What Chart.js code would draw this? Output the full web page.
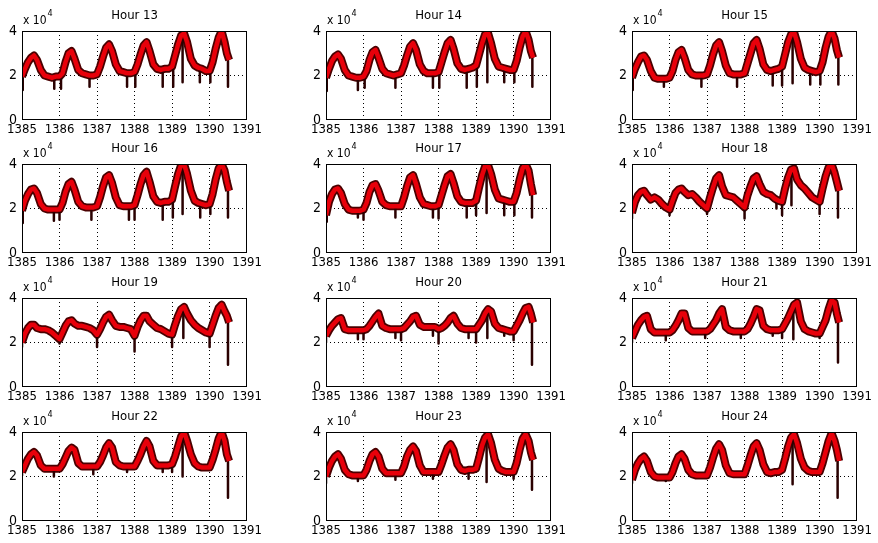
<!DOCTYPE html>
<html>
<head>
<meta charset="utf-8">
<script src="https://cdn.jsdelivr.net/npm/chart.js@4.4.1/dist/chart.umd.min.js"></script>
<style>
body { margin: 0; background: #fff; width: 878px; height: 543px; position: relative; overflow: hidden; }
canvas { position: absolute; }
</style>
</head>
<body>
<script>
// x positions (year)
var years = [
  1385.00, 1385.08, 1385.16, 1385.24, 1385.32, 1385.40, 1385.50, 1385.60, 1385.70, 1385.80, 1385.90,
  1386.00, 1386.08, 1386.16, 1386.24, 1386.32, 1386.40, 1386.50, 1386.60, 1386.70, 1386.80, 1386.90,
  1387.00, 1387.08, 1387.16, 1387.24, 1387.32, 1387.40, 1387.50, 1387.60, 1387.70, 1387.80, 1387.90,
  1388.00, 1388.08, 1388.16, 1388.24, 1388.32, 1388.40, 1388.50, 1388.60, 1388.70, 1388.80, 1388.90,
  1389.00, 1389.08, 1389.16, 1389.24, 1389.32, 1389.40, 1389.50, 1389.60, 1389.70, 1389.80, 1389.90,
  1390.00, 1390.08, 1390.16, 1390.24, 1390.32, 1390.40, 1390.46, 1390.52
];
var xTicks = [1385, 1386, 1387, 1388, 1389, 1390, 1391];
var yTicks = [0, 2, 4];

// values in units of 10^4
var hour13 = [
  1.95, 2.3, 2.6, 2.8, 2.9, 2.7, 2.25, 2.0, 1.95, 1.9, 1.95,
  1.95, 2.1, 2.6, 3.0, 3.1, 2.75, 2.25, 2.1, 2.05, 2.0, 2.0,
  2.05, 2.4, 2.85, 3.25, 3.4, 3.1, 2.5, 2.2, 2.15, 2.1, 2.1,
  2.15, 2.5, 2.95, 3.35, 3.5, 3.1, 2.5, 2.3, 2.25, 2.3, 2.3,
  2.4, 2.9, 3.4, 3.8, 3.9, 3.5, 2.75, 2.45, 2.35, 2.3, 2.2,
  2.2, 2.6, 3.2, 3.7, 4.0, 3.5, 3.0, 2.7
];
var hour14 = [
  1.9, 2.3, 2.65, 2.85, 2.95, 2.75, 2.25, 2.0, 1.95, 1.9, 1.9,
  1.95, 2.2, 2.7, 3.05, 3.15, 2.8, 2.3, 2.1, 2.05, 2.0, 2.05,
  2.1, 2.45, 2.9, 3.3, 3.45, 3.15, 2.5, 2.2, 2.1, 2.1, 2.1,
  2.15, 2.6, 3.05, 3.45, 3.6, 3.2, 2.55, 2.3, 2.25, 2.3, 2.35,
  2.45, 2.95, 3.45, 3.85, 3.9, 3.45, 2.75, 2.4, 2.35, 2.3, 2.25,
  2.25, 2.65, 3.25, 3.75, 4.0, 3.6, 3.1, 2.8
];
var hour15 = [
  1.9, 2.3, 2.6, 2.85, 2.9, 2.7, 2.2, 1.9, 1.85, 1.85, 1.85,
  1.9, 2.2, 2.7, 3.05, 3.15, 2.8, 2.25, 2.05, 2.0, 2.0, 2.0,
  2.05, 2.45, 2.95, 3.35, 3.5, 3.1, 2.45, 2.1, 2.05, 2.05, 2.05,
  2.1, 2.55, 3.0, 3.45, 3.6, 3.2, 2.5, 2.25, 2.2, 2.25, 2.3,
  2.4, 2.95, 3.5, 3.85, 3.95, 3.5, 2.75, 2.35, 2.25, 2.2, 2.15,
  2.2, 2.6, 3.25, 3.75, 4.0, 3.65, 3.15, 2.8
];
var hour16 = [
  1.9, 2.35, 2.65, 2.85, 2.9, 2.7, 2.2, 2.0, 1.95, 1.95, 1.95,
  1.95, 2.25, 2.75, 3.1, 3.2, 2.85, 2.3, 2.1, 2.05, 2.05, 2.05,
  2.1, 2.5, 3.0, 3.4, 3.5, 3.15, 2.5, 2.15, 2.1, 2.1, 2.1,
  2.15, 2.6, 3.1, 3.5, 3.65, 3.2, 2.55, 2.3, 2.25, 2.3, 2.3,
  2.4, 3.0, 3.55, 3.95, 4.0, 3.55, 2.8, 2.35, 2.25, 2.2, 2.15,
  2.2, 2.65, 3.3, 3.8, 4.0, 3.7, 3.2, 2.8
];
var hour17 = [
  1.7, 2.3, 2.65, 2.85, 2.9, 2.7, 2.2, 1.95, 1.9, 1.9, 1.9,
  1.95, 2.25, 2.75, 3.05, 3.1, 2.8, 2.3, 2.15, 2.1, 2.1, 2.1,
  2.1, 2.5, 3.0, 3.4, 3.5, 3.1, 2.5, 2.2, 2.15, 2.1, 2.1,
  2.15, 2.6, 3.05, 3.45, 3.55, 3.15, 2.55, 2.3, 2.25, 2.25, 2.25,
  2.35, 2.95, 3.5, 3.9, 3.95, 3.55, 2.85, 2.45, 2.4, 2.35, 2.3,
  2.3, 2.7, 3.3, 3.8, 4.0, 3.7, 3.1, 2.6
];
var hour18 = [
  1.8, 2.3, 2.6, 2.75, 2.8, 2.6, 2.4, 2.5, 2.4, 2.2, 2.05,
  1.95, 2.35, 2.7, 2.85, 2.9, 2.75, 2.6, 2.65, 2.5, 2.3, 2.15,
  2.0, 2.5, 2.95, 3.35, 3.5, 3.0, 2.6, 2.55, 2.5, 2.35, 2.2,
  2.05, 2.6, 3.0, 3.35, 3.45, 3.1, 2.75, 2.65, 2.6, 2.45, 2.35,
  2.3, 2.9, 3.4, 3.75, 3.8, 3.3, 3.05, 2.9, 2.7, 2.5, 2.4,
  2.3, 2.9, 3.45, 3.85, 4.0, 3.6, 3.2, 2.8
];
var hour19 = [
  2.0, 2.4, 2.65, 2.8, 2.8, 2.65, 2.6, 2.6, 2.55, 2.45, 2.3,
  2.15, 2.45, 2.75, 2.95, 3.0, 2.85, 2.75, 2.75, 2.7, 2.65, 2.55,
  2.35, 2.6, 2.9, 3.15, 3.25, 3.0, 2.75, 2.7, 2.7, 2.65, 2.6,
  2.3, 2.7, 3.0, 3.2, 3.2, 2.95, 2.8, 2.65, 2.6, 2.5, 2.4,
  2.35, 2.8, 3.2, 3.5, 3.6, 3.3, 3.0, 2.8, 2.65, 2.55, 2.45,
  2.4, 2.8, 3.2, 3.55, 3.7, 3.4, 3.2, 2.9
];
var hour20 = [
  2.3, 2.55, 2.75, 2.9, 3.05, 3.1, 2.6, 2.55, 2.55, 2.55, 2.55,
  2.55, 2.6, 2.75, 2.95, 3.15, 3.3, 2.75, 2.65, 2.6, 2.6, 2.6,
  2.6, 2.65, 2.8, 2.95, 3.15, 3.2, 2.8, 2.7, 2.7, 2.7, 2.7,
  2.6, 2.65, 2.75, 2.9, 3.1, 3.2, 2.85, 2.65, 2.6, 2.6, 2.6,
  2.6, 2.8, 3.0, 3.3, 3.5, 3.4, 2.85, 2.65, 2.6, 2.55, 2.5,
  2.5, 2.75, 3.0, 3.3, 3.55, 3.6, 3.3, 2.9
];
var hour21 = [
  2.2, 2.5, 2.8, 3.0, 3.15, 3.2, 2.6, 2.45, 2.45, 2.45, 2.45,
  2.45, 2.55, 2.75, 3.0, 3.3, 3.3, 2.65, 2.5, 2.5, 2.5, 2.5,
  2.5, 2.6, 2.8, 3.0, 3.3, 3.5, 2.7, 2.55, 2.5, 2.5, 2.5,
  2.5, 2.6, 2.85, 3.15, 3.5, 3.45, 2.75, 2.6, 2.55, 2.55, 2.55,
  2.6, 2.85, 3.1, 3.4, 3.7, 3.8, 2.95, 2.6, 2.5, 2.45, 2.4,
  2.4, 2.7, 3.0, 3.5, 3.9, 3.8, 3.3, 2.9
];
var hour22 = [
  2.2, 2.5, 2.8, 3.0, 3.1, 2.95, 2.5, 2.35, 2.35, 2.35, 2.35,
  2.35, 2.55, 2.85, 3.15, 3.3, 3.2, 2.6, 2.45, 2.45, 2.45, 2.45,
  2.45, 2.65, 2.95, 3.3, 3.5, 3.3, 2.65, 2.5, 2.45, 2.45, 2.45,
  2.45, 2.7, 3.0, 3.35, 3.6, 3.35, 2.7, 2.5, 2.5, 2.5, 2.5,
  2.55, 2.9, 3.35, 3.8, 4.0, 3.6, 3.0, 2.6, 2.45, 2.4, 2.4,
  2.4, 2.75, 3.2, 3.7, 4.0, 3.6, 3.0, 2.7
];
var hour23 = [
  2.0, 2.4, 2.7, 2.9, 3.0, 2.8, 2.3, 2.1, 2.05, 2.05, 2.05,
  2.05, 2.3, 2.7, 3.0, 3.1, 2.9, 2.35, 2.15, 2.15, 2.15, 2.15,
  2.15, 2.45, 2.9, 3.2, 3.35, 3.15, 2.5, 2.2, 2.2, 2.2, 2.2,
  2.2, 2.55, 2.95, 3.3, 3.45, 3.2, 2.55, 2.3, 2.25, 2.3, 2.3,
  2.35, 2.85, 3.4, 3.75, 3.9, 3.5, 2.75, 2.35, 2.25, 2.2, 2.2,
  2.2, 2.6, 3.2, 3.7, 3.9, 3.6, 3.1, 2.75
];
var hour24 = [
  1.85, 2.3, 2.6, 2.8, 2.9, 2.7, 2.2, 2.0, 1.95, 1.95, 1.95,
  1.95, 2.2, 2.6, 2.9, 3.0, 2.8, 2.3, 2.1, 2.05, 2.05, 2.05,
  2.05, 2.4, 2.85, 3.25, 3.45, 3.2, 2.5, 2.15, 2.1, 2.1, 2.1,
  2.1, 2.5, 2.95, 3.35, 3.5, 3.2, 2.55, 2.2, 2.15, 2.2, 2.2,
  2.3, 2.8, 3.35, 3.75, 3.9, 3.5, 2.8, 2.4, 2.25, 2.2, 2.2,
  2.2, 2.6, 3.1, 3.6, 3.95, 3.6, 3.2, 2.7
];

// one-day drops: [year, level, low]
var drops13 = [[1385.02,1.9,1.35],[1385.86,1.9,1.4],[1386.04,1.95,1.4],[1386.8,2.05,1.5],[1387.8,2.1,1.5],[1388.02,2.15,1.5],[1388.75,2.25,1.5],[1389.03,2.4,1.5],[1389.28,3.6,1.7],[1389.74,2.35,1.7],[1390.02,2.2,1.7],[1390.49,3.0,1.5]];
var drops14 = [[1385.02,1.9,1.3],[1385.85,1.9,1.35],[1386.03,1.95,1.45],[1386.85,2.0,1.45],[1387.85,2.1,1.45],[1388.02,2.15,1.45],[1388.75,2.25,1.45],[1389.02,2.4,1.5],[1389.3,3.7,1.7],[1389.75,2.3,1.7],[1390.02,2.25,1.7],[1390.5,2.9,1.5]];
var drops15 = [[1385.02,1.9,1.35],[1385.85,1.85,1.5],[1386.85,2.0,1.5],[1387.8,2.05,1.5],[1388.75,2.2,1.55],[1389.0,2.4,1.55],[1389.28,3.7,1.65],[1389.75,2.25,1.6],[1390.02,2.2,1.6],[1390.5,2.8,1.6]];
var drops16 = [[1385.02,1.9,1.35],[1385.85,1.95,1.45],[1386.0,1.95,1.5],[1386.85,2.05,1.5],[1387.85,2.1,1.5],[1388.0,2.15,1.5],[1388.75,2.25,1.5],[1389.02,2.4,1.6],[1389.28,3.8,1.75],[1389.75,2.25,1.6],[1390.02,2.2,1.75],[1390.49,3.0,1.6]];
var drops17 = [[1385.02,1.8,1.4],[1385.85,1.9,1.6],[1386.0,1.95,1.5],[1386.85,2.1,1.6],[1387.85,2.1,1.6],[1388.0,2.15,1.55],[1388.75,2.25,1.6],[1389.0,2.35,1.7],[1389.28,3.8,1.8],[1389.75,2.35,1.7],[1390.02,2.3,1.7],[1390.49,2.8,1.6]];
var drops18 = [[1385.0,1.8,1.55],[1386.0,1.95,1.7],[1387.0,2.0,1.75],[1388.0,2.05,1.55],[1388.85,2.4,2.0],[1389.0,2.3,1.7],[1389.25,3.6,2.15],[1390.0,2.3,1.75],[1390.49,3.0,1.6]];
var drops19 = [[1385.0,2.0,1.8],[1386.0,2.15,1.95],[1387.0,2.35,1.8],[1388.0,2.3,1.6],[1389.0,2.35,1.8],[1389.3,3.5,2.2],[1390.0,2.4,1.8],[1390.49,3.0,1.0]];
var drops20 = [[1385.0,2.3,2.0],[1385.85,2.55,2.15],[1386.0,2.55,2.15],[1386.85,2.6,2.2],[1387.0,2.6,2.1],[1387.85,2.7,2.3],[1388.0,2.6,1.95],[1388.8,2.6,2.2],[1389.0,2.6,2.0],[1389.3,3.4,2.2],[1389.75,2.55,2.3],[1390.0,2.5,2.1],[1390.49,3.1,1.0]];
var drops21 = [[1385.0,2.2,2.0],[1385.9,2.45,2.1],[1386.95,2.5,2.2],[1387.9,2.5,2.2],[1388.75,2.55,2.3],[1389.0,2.6,2.2],[1389.3,3.5,2.15],[1390.0,2.4,2.2],[1390.49,3.1,1.1]];
var drops22 = [[1385.0,2.2,2.05],[1385.85,2.35,2.0],[1386.9,2.45,2.1],[1387.8,2.45,2.2],[1388.75,2.5,2.2],[1389.0,2.55,2.2],[1389.28,3.8,2.0],[1389.75,2.4,2.3],[1390.49,2.9,1.05]];
var drops23 = [[1385.0,2.0,1.7],[1385.85,2.05,1.8],[1386.85,2.15,1.85],[1387.85,2.2,1.9],[1388.8,2.25,1.9],[1389.28,3.7,1.75],[1390.0,2.2,1.9],[1390.49,3.0,1.4]];
var drops24 = [[1385.0,1.85,1.7],[1385.9,1.95,1.8],[1389.28,3.7,1.65],[1390.48,3.2,1.05]];

var titles = ['Hour 13', 'Hour 14', 'Hour 15', 'Hour 16', 'Hour 17', 'Hour 18',
              'Hour 19', 'Hour 20', 'Hour 21', 'Hour 22', 'Hour 23', 'Hour 24'];
var series = [hour13, hour14, hour15, hour16, hour17, hour18, hour19, hour20, hour21, hour22, hour23, hour24];
var drops = [drops13, drops14, drops15, drops16, drops17, drops18, drops19, drops20, drops21, drops22, drops23, drops24];

var fam = "'Liberation Sans Narrow', 'DejaVu Sans Condensed', 'Liberation Sans', Arial, sans-serif";
var colLeft = [22, 326, 632];
var rowTop = [31, 164, 298, 432];

var boxPlugin = {
    id: 'box',
    afterDraw: function (chart) {
        var a = chart.chartArea, c = chart.ctx;
        c.save();
        c.strokeStyle = '#000';
        c.lineWidth = 1;
        c.strokeRect(Math.round(a.left) + 0.5, Math.round(a.top) + 0.5, Math.round(a.right - a.left) - 1, Math.round(a.bottom - a.top) - 1);
        c.fillStyle = '#000';
        c.font = '12px ' + fam;
        c.fillText('x 10', a.left + 1, a.top - 7);
        var w = c.measureText('x 10').width;
        c.font = '9px ' + fam;
        c.fillText('4', a.left + 2 + w, a.top - 15);
        c.restore();
    }
};

function makePoints(ys) {
    return years.map(function (x, i) { return { x: x, y: ys[i] }; });
}
function makeDrops(list) {
    var out = [];
    list.forEach(function (d) {
        out.push({ x: d[0], y: d[1] }, { x: d[0], y: d[2] }, { x: d[0], y: null });
    });
    return out;
}

for (let i = 0; i < titles.length; i++) {
    var col = i % 3, row = Math.floor(i / 3);
    var cv = document.createElement('canvas');
    cv.width = 264;
    cv.height = 136;
    cv.style.left = (colLeft[col] - 22) + 'px';
    cv.style.top = (rowTop[row] - 31) + 'px';
    document.body.appendChild(cv);

    new Chart(cv, {
        type: 'line',
        data: {
            datasets: [
                {
                    data: makePoints(series[i]),
                    borderColor: '#e8000a',
                    borderWidth: 4.5,
                    order: 0
                },
                {
                    data: makeDrops(drops[i]),
                    borderColor: '#2a0000',
                    borderWidth: 2.5,
                    order: 1
                },
                {
                    data: makePoints(series[i]),
                    borderColor: '#4a0000',
                    borderWidth: 8,
                    order: 2
                }
            ]
        },
        options: {
            responsive: false,
            animation: false,
            devicePixelRatio: 1,
            layout: { padding: { top: 0, left: 0, right: 14, bottom: 0 } },
            elements: {
                point: { radius: 0, hoverRadius: 0 },
                line: { tension: 0, borderJoinStyle: 'round', borderCapStyle: 'butt' }
            },
            datasets: { line: { clip: 0, spanGaps: false } },
            scales: {
                x: {
                    type: 'linear',
                    min: xTicks[0],
                    max: xTicks[xTicks.length - 1],
                    afterBuildTicks: function (s) { s.ticks = xTicks.map(function (v) { return { value: v }; }); },
                    afterFit: function (s) { s.height = 16; },
                    ticks: {
                        padding: 2,
                        color: '#000',
                        font: { family: fam, size: 13 },
                        maxRotation: 0,
                        autoSkip: false,
                        callback: function (v) { return String(v); }
                    },
                    grid: {
                        drawTicks: false,
                        lineWidth: 1,
                        color: function (ctx) {
                            var v = ctx.tick && ctx.tick.value;
                            return (v > xTicks[0] && v < xTicks[xTicks.length - 1]) ? '#000' : 'rgba(0,0,0,0)';
                        }
                    },
                    border: { display: false, dash: [1, 3] }
                },
                y: {
                    min: yTicks[0],
                    max: yTicks[yTicks.length - 1],
                    afterBuildTicks: function (s) { s.ticks = yTicks.map(function (v) { return { value: v }; }); },
                    afterFit: function (s) { s.width = 22; },
                    ticks: {
                        padding: 5,
                        color: '#000',
                        font: { family: fam, size: 14 }
                    },
                    grid: {
                        drawTicks: false,
                        lineWidth: 1,
                        color: function (ctx) {
                            var v = ctx.tick && ctx.tick.value;
                            return (v > yTicks[0] && v < yTicks[yTicks.length - 1]) ? '#000' : 'rgba(0,0,0,0)';
                        }
                    },
                    border: { display: false, dash: [1, 3] }
                }
            },
            plugins: {
                legend: { display: false },
                tooltip: { enabled: false },
                title: {
                    display: true,
                    text: titles[i],
                    fullSize: false,
                    color: '#000',
                    font: { family: fam, size: 13, weight: 'normal', lineHeight: 1.2 },
                    padding: { top: 8, bottom: 7.4 }
                }
            }
        },
        plugins: [boxPlugin]
    });
}
</script>
</body>
</html>
